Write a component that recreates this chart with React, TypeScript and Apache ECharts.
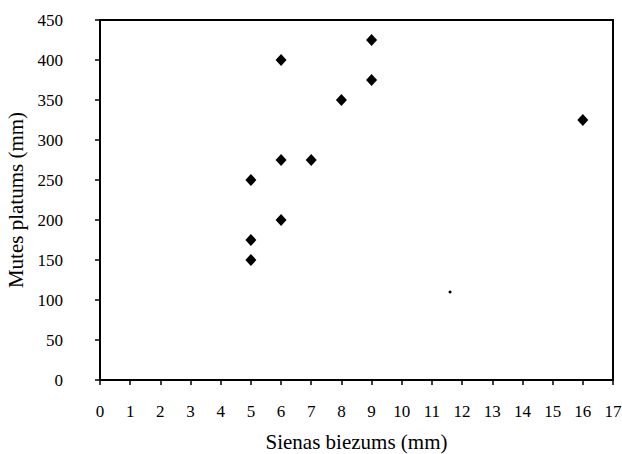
import React, { useEffect, useRef } from "react";
import * as echarts from "echarts";

const xValues = [5, 5, 5, 6, 6, 6, 7, 8, 9, 9, 16];
const yValues = [250, 175, 150, 400, 275, 200, 275, 350, 425, 375, 325];
const strayX = [11.6];
const strayY = [110];
const xTicks = { min: 0, max: 17, interval: 1 };
const yTicks = { min: 0, max: 450, interval: 50 };

const FONT = "'Liberation Serif', 'Times New Roman', serif";

export default function App() {
  const ref = useRef<HTMLDivElement>(null);
  useEffect(() => {
    if (!ref.current) return;
    const chart = echarts.init(ref.current, undefined, { renderer: "svg" });
    chart.setOption({
      animation: false,
      backgroundColor: "#ffffff",
      grid: {
        left: 100,
        right: 9,
        top: 20,
        bottom: 74,
        outerBoundsMode: "none",
        containLabel: false,
        show: true,
        borderColor: "#000",
        borderWidth: 2,
        backgroundColor: "transparent",
      },
      xAxis: {
        type: "value",
        min: xTicks.min,
        max: xTicks.max,
        interval: xTicks.interval,
        name: "Sienas biezums (mm)",
        nameLocation: "middle",
        nameGap: 51,
        nameTextStyle: { fontFamily: FONT, fontSize: 21, color: "#000", lineHeight: 21 },
        axisLine: { show: true, onZero: false, lineStyle: { color: "#000", width: 2 } },
        axisTick: { show: true, length: 5, lineStyle: { color: "#000", width: 1.5 } },
        axisLabel: { fontFamily: FONT, fontSize: 17, color: "#000", margin: 23 },
        splitLine: { show: false },
      },
      yAxis: {
        type: "value",
        min: yTicks.min,
        max: yTicks.max,
        interval: yTicks.interval,
        name: "Mutes platums (mm)",
        nameLocation: "middle",
        nameGap: 74,
        nameRotate: 90,
        nameTextStyle: { fontFamily: FONT, fontSize: 21, color: "#000" },
        axisLine: { show: true, onZero: false, lineStyle: { color: "#000", width: 2 } },
        axisTick: { show: true, length: 5, lineStyle: { color: "#000", width: 1.5 } },
        axisLabel: { fontFamily: FONT, fontSize: 17, color: "#000", margin: 37 },
        splitLine: { show: false },
      },
      series: [
        {
          type: "scatter",
          symbol: "diamond",
          symbolSize: [11, 12],
          itemStyle: { color: "#000", opacity: 1 },
          data: xValues.map((x, i) => [x, yValues[i]]),
        },
        {
          type: "scatter",
          symbol: "circle",
          symbolSize: 3,
          itemStyle: { color: "#000", opacity: 1 },
          data: strayX.map((x, i) => [x, strayY[i]]),
        },
      ],
    });
    return () => chart.dispose();
  }, []);
  return (
    <div
      ref={ref}
      style={{ position: "fixed", left: 0, top: 0, width: 622, height: 454 }}
    />
  );
}
